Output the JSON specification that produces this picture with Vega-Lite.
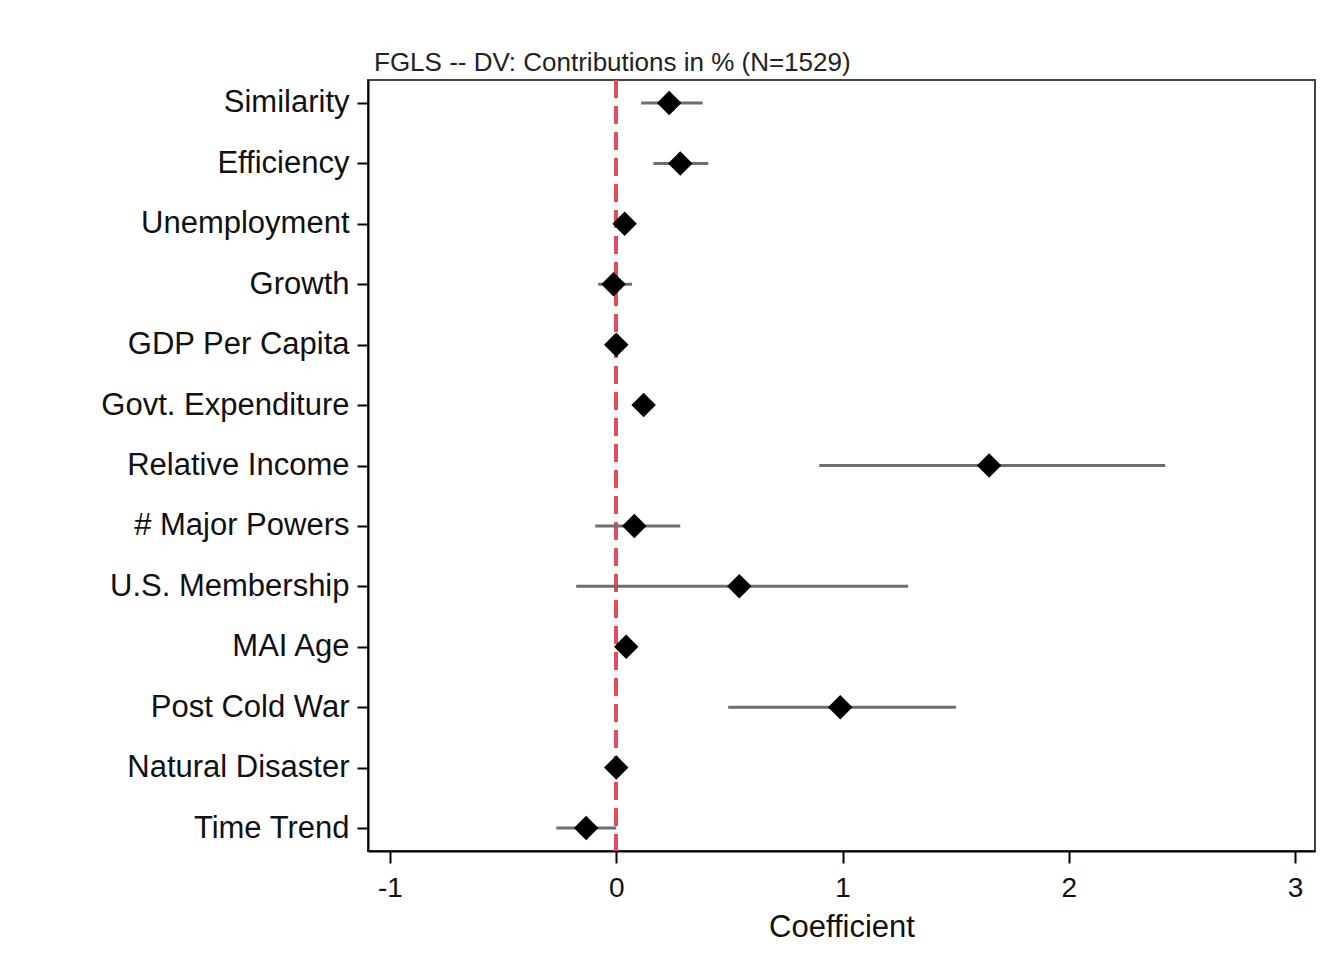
{
  "$schema": "https://vega.github.io/schema/vega-lite/v6.json",
  "width": 947,
  "height": 771,
  "autosize": {"type": "none"},
  "padding": {"left": 368, "top": 80, "right": 23, "bottom": 127},
  "background": "white",
  "title": {
    "text": "FGLS -- DV: Contributions in % (N=1529)",
    "anchor": "start",
    "frame": "group",
    "font": "Liberation Sans",
    "fontSize": 26,
    "fontWeight": "normal",
    "color": "#222222",
    "dx": 6,
    "offset": 3
  },
  "data": {
    "values": [
      {"var": "Similarity", "coef": 0.234, "lo": 0.11, "hi": 0.382},
      {"var": "Efficiency", "coef": 0.283, "lo": 0.164, "hi": 0.407},
      {"var": "Unemployment", "coef": 0.037, "lo": 0.0, "hi": 0.07},
      {"var": "Growth", "coef": -0.012, "lo": -0.08, "hi": 0.07},
      {"var": "GDP Per Capita", "coef": 0.0, "lo": -0.02, "hi": 0.02},
      {"var": "Govt. Expenditure", "coef": 0.121, "lo": 0.09, "hi": 0.15},
      {"var": "Relative Income", "coef": 1.648, "lo": 0.897, "hi": 2.426},
      {"var": "# Major Powers", "coef": 0.08, "lo": -0.093, "hi": 0.283},
      {"var": "U.S. Membership", "coef": 0.544, "lo": -0.177, "hi": 1.29},
      {"var": "MAI Age", "coef": 0.044, "lo": 0.02, "hi": 0.07},
      {"var": "Post Cold War", "coef": 0.99, "lo": 0.495, "hi": 1.502},
      {"var": "Natural Disaster", "coef": 0.0, "lo": -0.02, "hi": 0.02},
      {"var": "Time Trend", "coef": -0.133, "lo": -0.265, "hi": 0.0}
    ]
  },
  "layer": [
    {
      "mark": {"type": "rule", "color": "#e24b5b", "strokeWidth": 3, "strokeDash": [18, 8]},
      "encoding": {
        "x": {
          "datum": 0,
          "type": "quantitative",
          "scale": {"domain": [-1.097, 3.088], "nice": false, "zero": false},
          "title": "Coefficient",
          "axis": {"values": [-1, 0, 1, 2, 3], "labelExpr": "'' + datum.value"}
        }
      }
    },
    {
      "mark": {"type": "rule", "color": "#6e6e6e", "strokeWidth": 3},
      "encoding": {
        "y": {"field": "var", "type": "nominal", "sort": null, "scale": {"type": "point", "padding": 0.38}, "title": null},
        "x": {"field": "lo", "type": "quantitative", "title": "Coefficient", "axis": {"values": [-1, 0, 1, 2, 3], "labelExpr": "'' + datum.value"}},
        "x2": {"field": "hi"}
      }
    },
    {
      "mark": {"type": "point", "shape": "diamond", "filled": true, "color": "#000000", "size": 600, "opacity": 1},
      "encoding": {
        "y": {"field": "var", "type": "nominal", "sort": null, "scale": {"type": "point", "padding": 0.38}, "title": null},
        "x": {"field": "coef", "type": "quantitative", "title": "Coefficient", "axis": {"values": [-1, 0, 1, 2, 3], "labelExpr": "'' + datum.value"}}
      }
    }
  ],
  "config": {
    "view": {"stroke": "#444444", "strokeWidth": 2},
    "axis": {
      "grid": false,
      "domainColor": "#000000",
      "domainWidth": 2,
      "tickColor": "#000000",
      "tickWidth": 2,
      "labelFont": "Liberation Sans",
      "labelColor": "#111111",
      "titleFont": "Liberation Sans",
      "titleColor": "#111111",
      "titleFontWeight": "normal"
    },
    "axisY": {"labelFontSize": 31, "tickSize": 11, "labelPadding": 8, "labelLimit": 500},
    "axisX": {
      "labelFontSize": 28,
      "tickSize": 12,
      "labelPadding": 11,
      "titleFontSize": 31,
      "titlePadding": 10
    }
  }
}
